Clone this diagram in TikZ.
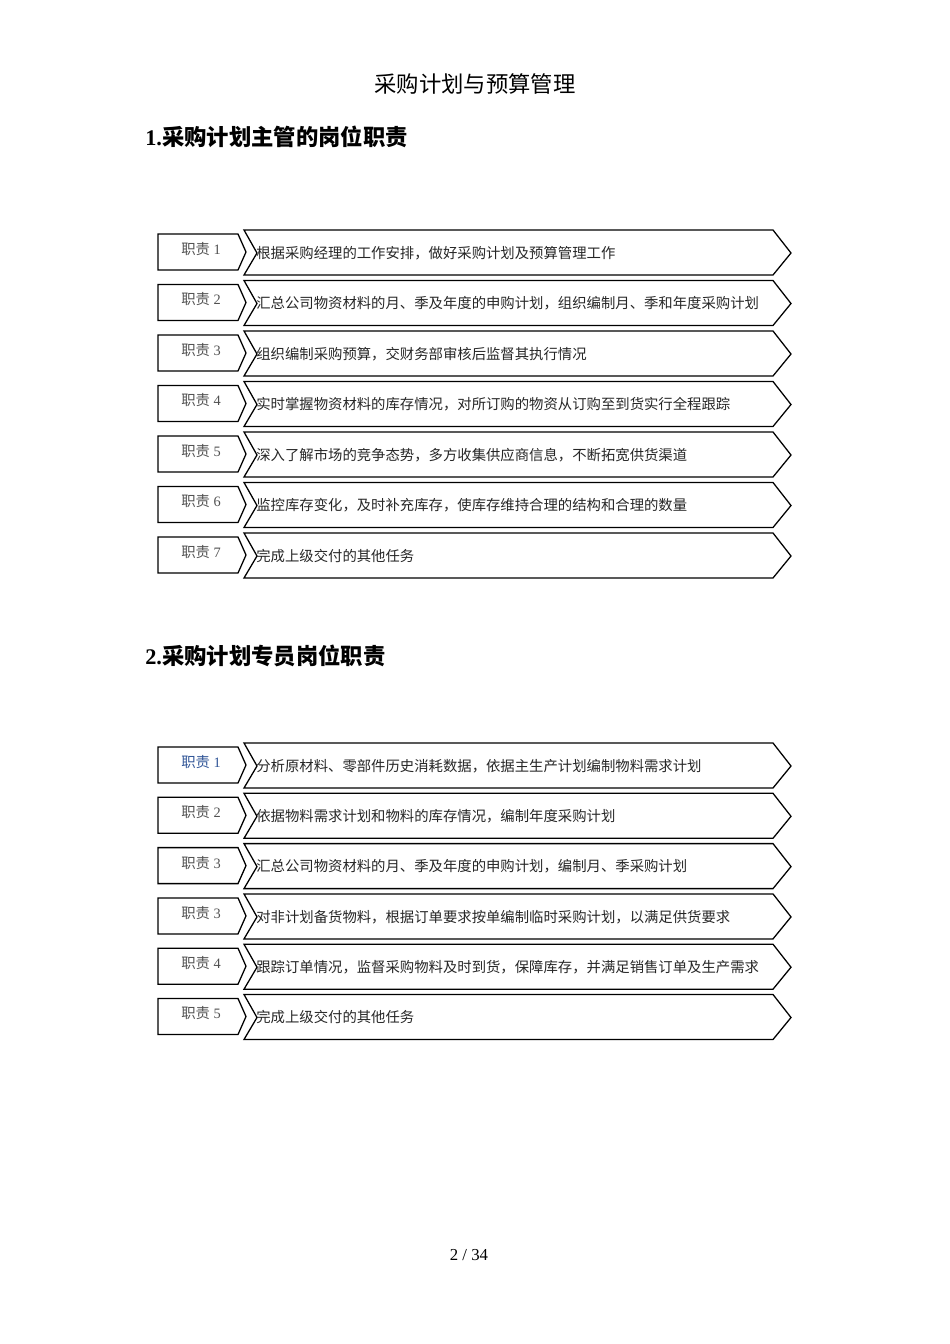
\documentclass[tikz,border=0pt]{standalone}
\usepackage{fontspec}
\setmainfont{Liberation Serif}
\newfontfamily\cjk{Noto Sans CJK SC}
\definecolor{taggray}{RGB}{80,80,80}
\definecolor{tagblue}{RGB}{47,84,150}
\tikzset{
  outline/.style={draw=black, line width=0.8pt, line join=miter},
  tag/.style={font=\fontsize{9}{11}\selectfont, inner sep=0pt},
  duty/.style={anchor=west, font=\cjk\fontsize{9}{11}\selectfont, text=black!85, inner sep=0pt},
  heading/.style={anchor=west, font=\bfseries\fontsize{14}{16}\selectfont, inner sep=0pt},
}
\begin{document}
\begin{tikzpicture}[x=0.6266pt, y=-0.6266pt]
\useasboundingbox (0,0) rectangle (950,1344);
\node (title) at (475,84) {\cjk\fontsize{14}{16}\selectfont 采购计划与预算管理};
\node[heading] (headA) at (145,137) {1.{\cjk 采购计划主管的岗位职责}};

% duties of the supervisor
\begin{scope}[shift={(0,253)}]
\foreach \n/\lab/\txt in {0/1/根据采购经理的工作安排，做好采购计划及预算管理工作,
  1/2/汇总公司物资材料的月、季及年度的申购计划，组织编制月、季和年度采购计划,
  2/3/组织编制采购预算，交财务部审核后监督其执行情况,
  3/4/实时掌握物资材料的库存情况，对所订购的物资从订购至到货实行全程跟踪,
  4/5/深入了解市场的竞争态势，多方收集供应商信息，不断拓宽供货渠道,
  5/6/监控库存变化，及时补充库存，使库存维持合理的结构和合理的数量,
  6/7/完成上级交付的其他任务}{
  \begin{scope}[shift={(0,50.5*\n)}]
    \draw[outline] (158,-19) -- (238,-19) -- (246,-1) -- (238,17) -- (158,17) -- cycle;
    \draw[outline] (244,-23) -- (773,-23) -- (791,0) -- (773,22) -- (244,22) -- (257,0) -- cycle;
    \node[tag, text=taggray] (tagA\lab) at (201,-4) {{\cjk 职责} \lab};
    \node[duty] (dutyA\lab) at (256,0) {\txt};
  \end{scope}
}
\end{scope}

\node[heading] (headB) at (145,656) {2.{\cjk 采购计划专员岗位职责}};

% duties of the planner
\begin{scope}[shift={(0,766)}]
\foreach \n/\lab/\col/\txt in {0/1/tagblue/分析原材料、零部件历史消耗数据，依据主生产计划编制物料需求计划,
  1/2/taggray/依据物料需求计划和物料的库存情况，编制年度采购计划,
  2/3/taggray/汇总公司物资材料的月、季及年度的申购计划，编制月、季采购计划,
  3/3/taggray/对非计划备货物料，根据订单要求按单编制临时采购计划，以满足供货要求,
  4/4/taggray/跟踪订单情况，监督采购物料及时到货，保障库存，并满足销售订单及生产需求,
  5/5/taggray/完成上级交付的其他任务}{
  \begin{scope}[shift={(0,50.3*\n)}]
    \draw[outline] (158,-19) -- (238,-19) -- (246,-1) -- (238,17) -- (158,17) -- cycle;
    \draw[outline] (244,-23) -- (773,-23) -- (791,0) -- (773,22) -- (244,22) -- (257,0) -- cycle;
    \node[tag, text=\col] (tagB\n) at (201,-4) {{\cjk 职责} \lab};
    \node[duty] (dutyB\n) at (256,0) {\txt};
  \end{scope}
}
\end{scope}

\node (pageno) at (469,1255) {\fontsize{10.5}{12}\selectfont 2 / 34};
\end{tikzpicture}
\end{document}
